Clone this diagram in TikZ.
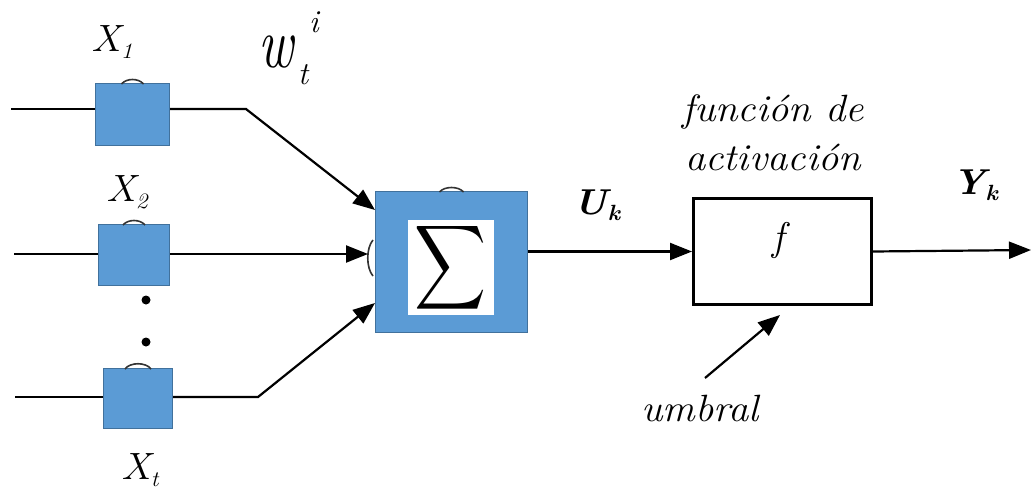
\documentclass[tikz,border=0pt]{standalone}
\usepackage{fontspec}
\usetikzlibrary{arrows.meta,calc}
\definecolor{boxblue}{HTML}{5B9BD5}
\definecolor{boxedge}{HTML}{41719C}
\newcommand\wide[1]{\scalebox{1.07}[1]{#1}}
\newcommand\lowsub[1]{\raisebox{-0.18em}{\fontsize{22}{22}\selectfont #1}}
\begin{document}
\begin{tikzpicture}[x=1pt,y=-1pt,
  wire/.style={line width=2.2pt, black},
  arr/.style={wire,-{Triangle[length=22pt,width=17pt]}},
  inbox/.style={draw=boxedge, fill=boxblue, line width=1pt, inner sep=0pt, anchor=north west},
  lbl/.style={font=\fontsize{38}{46}\selectfont\itshape, inner sep=0pt, align=center},
  arcmark/.style={line width=1.6pt, black!80},
  dotmark/.style={circle, fill=black, inner sep=0pt, minimum size=9pt}]
\useasboundingbox (0,0) rectangle (1032,492);
% input boxes
\node[inbox, minimum width=74pt, minimum height=62pt] (x1) at (95,83) {};
\node[inbox, minimum width=71pt, minimum height=61pt] (x2) at (98,224) {};
\node[inbox, minimum width=69pt, minimum height=60pt] (x3) at (103,368) {};
% summation box
\node[inbox, minimum width=152pt, minimum height=141pt] (sig) at (375,191) {};
\node[fill=white, inner sep=0pt, minimum width=86pt, minimum height=81pt] (sigin) at (451,267.5)
  {\resizebox{72pt}{62pt}{$\displaystyle\sum$}};
% activation box
\node[draw=black, line width=3pt, inner sep=0pt, minimum width=178pt, minimum height=106pt, anchor=north west] (f) at (692,197) {};
\node[lbl, font=\fontsize{40}{40}\selectfont\itshape] (fl) at (778,240) {f};
% small arc marks
\draw[arcmark] ($(x1.north)+(-11,1)$) .. controls +(5,-6) and +(-5,-6) .. ($(x1.north)+(11,1)$);
\draw[arcmark] ($(x2.north)+(-11,1)$) .. controls +(5,-6) and +(-5,-6) .. ($(x2.north)+(11,1)$);
\draw[arcmark] ($(x3.north)+(-13,1)$) .. controls +(5,-7) and +(-5,-7) .. ($(x3.north)+(13,1)$);
\draw[arcmark] ($(sig.north)+(-12,1)$) .. controls +(5,-6) and +(-5,-6) .. ($(sig.north)+(12,1)$);
\draw[arcmark] ($(sig.west)+(-2,-22)$) .. controls +(-7,8) and +(-7,-8) .. ($(sig.west)+(-2,14)$);
% dots
\node[dotmark] (d1) at (146,300) {};
\node[dotmark] (d2) at (146,342) {};
% coordinates
\coordinate (in1) at (11,109);
\coordinate (b1) at (246,109);
\coordinate (t1) at ($(sig.north west)+(0,19)$);
\coordinate (in2) at (14,254);
\coordinate (in3) at (15,397);
\coordinate (b3) at (258,397);
\coordinate (t3) at ($(sig.south west)+(0,-30)$);
\coordinate (out) at (1031,250);
\coordinate (u0) at (705,378);
\coordinate (u1) at ($(f.south west)+(88,9)$);
% connectors
\draw[wire] (in1) -- (in1 -| x1.west);
\draw[arr] (x1.east |- b1) -- (b1) -- (t1);
\draw[wire] (in2) -- (in2 -| x2.west);
\draw[arr, shorten >=7pt] (x2.east |- in2) -- (in2 -| sig.west);
\draw[wire] (in3) -- (in3 -| x3.west);
\draw[arr] (x3.east |- b3) -- (b3) -- (t3);
\draw[arr] (sig.east |- f.west) -- (f.west);
\draw[arr] (f.east) -- (out);
\draw[arr] (u0) -- (u1);
% labels
\node[lbl] (lx1) at (112,42) {\wide{X\lowsub{1}}};
\node[lbl] (lx2) at (127,192) {\wide{X\lowsub{2}}};
\node[lbl] (lxt) at (140,470) {\wide{X\lowsub{t}}};
\node[inner sep=0pt, font=\fontsize{72}{72}\selectfont\itshape] (w) at (276,52) {\scalebox{0.75}[1]{w}};
\node[inner sep=0pt, font=\fontsize{32}{32}\selectfont\itshape] (wt) at (303,75) {t};
\node[inner sep=0pt, font=\fontsize{32}{32}\selectfont\itshape] (wi) at (314,22) {i};
\node[lbl, font=\fontsize{36}{36}\selectfont\bfseries\itshape] (uk) at (597,205) {\wide{U\lowsub{k}}};
\node[lbl, font=\fontsize{36}{36}\selectfont\bfseries\itshape] (yk) at (975,185) {\wide{Y\lowsub{k}}};
\node[lbl] (fun1) at (773,112) {\wide{función de}};
\node[lbl] (fun2) at (773,157) {\wide{activación}};
\node[lbl] (umb) at (700,408) {\wide{umbral}};
\end{tikzpicture}
\end{document}
